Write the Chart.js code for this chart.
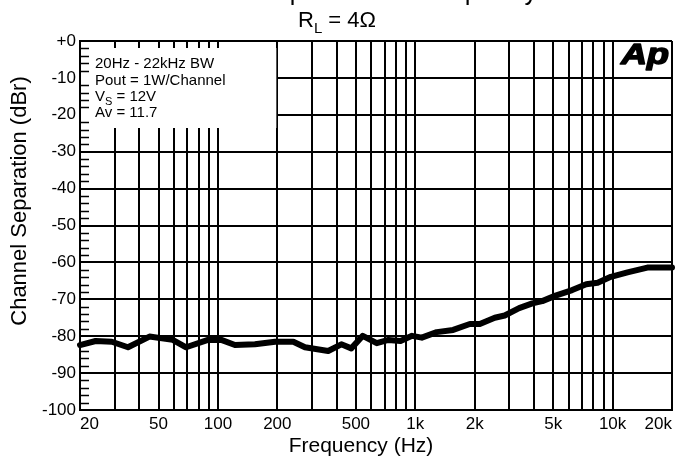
<!DOCTYPE html>
<html>
<head>
<meta charset="utf-8">
<script src="https://cdn.jsdelivr.net/npm/chart.js@4.4.0/dist/chart.umd.min.js"></script>
<style>
html, body { margin: 0; padding: 0; background: #fff; }
</style>
</head>
<body>
<canvas id="channel-separation" width="686" height="461"></canvas>
<script>
// Channel Separation vs Frequency, RL = 4 ohm
const freqHz = [20, 24, 29, 35, 45, 59, 69, 89, 104, 122, 154, 195, 241, 276, 362, 422, 474, 542,
    638, 731, 842, 963, 1079, 1285, 1556, 1890, 2124, 2528, 2840, 3360, 3920, 4400, 5140, 6240,
    7350, 8400, 9800, 11900, 15000, 20000];
const separationDb = [-82.4, -81.3, -81.5, -83.0, -80.1, -81.0, -83.0, -81.0, -81.0, -82.4, -82.2,
    -81.5, -81.5, -83.0, -84.0, -82.2, -83.3, -79.9, -81.9, -81.0, -81.3, -79.9, -80.4, -78.9,
    -78.3, -76.7, -76.7, -75.0, -74.4, -72.4, -71.1, -70.5, -69.0, -67.5, -65.9, -65.5, -63.9,
    -62.7, -61.4, -61.4];

// log grid lines and the few that carry a label
const gridHz = [20, 30, 40, 50, 60, 70, 80, 90, 100, 200, 300, 400, 500, 600, 700, 800, 900,
    1000, 2000, 3000, 4000, 5000, 6000, 7000, 8000, 9000, 10000, 20000];
const labelHz = [20, 50, 100, 200, 500, 1000, 2000, 5000, 10000, 20000];
const labelText = ["20", "50", "100", "200", "500", "1k", "2k", "5k", "10k", "20k"];

// small ticks on the left edge, every 2 dB
const minorDb = [-2, -4, -6, -8, -12, -14, -16, -18, -22, -24, -26, -28, -32, -34, -36, -38,
    -42, -44, -46, -48, -52, -54, -56, -58, -62, -64, -66, -68, -72, -74, -76, -78,
    -82, -84, -86, -88, -92, -94, -96, -98];

const noteLines = ["20Hz - 22kHz BW", "Pout = 1W/Channel", "Vs = 12V", "Av = 11.7"];

const FONT = '"Liberation Sans", Arial, sans-serif';
Chart.defaults.font.family = FONT;
Chart.defaults.color = "#000";

const points = freqHz.map((f, i) => ({ x: f, y: separationDb[i] }));

// text with a subscript, e.g. R + L
function subText(ctx, x, y, main, sub, rest, size) {
    ctx.font = size + "px " + FONT;
    ctx.fillText(main, x, y);
    x += ctx.measureText(main).width;
    ctx.font = Math.round(size * 0.7) + "px " + FONT;
    ctx.fillText(sub, x, y + size * 0.25);
    x += ctx.measureText(sub).width;
    ctx.font = size + "px " + FONT;
    ctx.fillText(rest, x, y);
}

const panelPlugin = {
    id: "panel",
    beforeDatasetsDraw(chart) {
        const ctx = chart.ctx;
        const area = chart.chartArea;
        const yScale = chart.scales.y;
        const xScale = chart.scales.x;
        ctx.save();
        // white note box over the grid
        ctx.fillStyle = "#fff";
        const boxRight = xScale.getPixelForValue(200) - 1;
        ctx.fillRect(area.left + 1, area.top + 7, boxRight - area.left - 1, 80);

        ctx.strokeStyle = "#000";
        ctx.lineWidth = 1.5;
        ctx.beginPath();
        minorDb.forEach(v => {
            const py = Math.round(yScale.getPixelForValue(v)) + 0.5;
            ctx.moveTo(area.left, py);
            ctx.lineTo(area.left + 9, py);
        });
        ctx.stroke();

        ctx.fillStyle = "#000";
        ctx.textAlign = "left";
        ctx.textBaseline = "alphabetic";
        ctx.font = "15px " + FONT;
        const tx = area.left + 15;
        ctx.fillText(noteLines[0], tx, area.top + 27);
        ctx.fillText(noteLines[1], tx, area.top + 44);
        subText(ctx, tx, area.top + 60, "V", "S", " = 12V", 15);
        ctx.font = "15px " + FONT;
        ctx.fillText(noteLines[3], tx, area.top + 76);
        ctx.restore();
    },
    afterDraw(chart) {
        const ctx = chart.ctx;
        const area = chart.chartArea;
        ctx.save();
        ctx.fillStyle = "#000";
        ctx.textBaseline = "alphabetic";

        // first title line sits mostly above the canvas
        ctx.textAlign = "center";
        ctx.font = "25px " + FONT;
        ctx.fillText("Channel Separation vs Frequency", 348, 0);

        ctx.textAlign = "left";
        subText(ctx, 298, 27, "R", "L", " = 4\u03A9", 22);

        // axis titles
        ctx.textAlign = "center";
        ctx.textBaseline = "middle";
        ctx.font = "21px " + FONT;
        ctx.fillText("Frequency (Hz)", 361, 446);
        ctx.translate(20, 201);
        ctx.rotate(-Math.PI / 2);
        ctx.font = "22px " + FONT;
        ctx.fillText("Channel Separation (dBr)", 0, 0);
        ctx.restore();

        // Ap logo
        ctx.save();
        ctx.fillStyle = "#000";
        ctx.strokeStyle = "#000";
        ctx.lineWidth = 1.5;
        ctx.lineJoin = "round";
        ctx.textAlign = "right";
        ctx.textBaseline = "alphabetic";
        ctx.font = "italic bold 30px " + FONT;
        ctx.translate(area.right - 3, area.top + 23);
        ctx.scale(1.2, 1);
        ctx.fillText("Ap", 0, 0);
        ctx.strokeText("Ap", 0, 0);
        ctx.restore();
    }
};

const sep_config = {
    type: "line",
    data: {
        datasets: [{
            label: "Channel Separation",
            data: points,
            borderColor: "#000",
            borderWidth: 6,
            borderCapStyle: "round",
            borderJoinStyle: "round",
            pointRadius: 0,
            tension: 0,
            clip: false,
        }]
    },
    options: {
        responsive: false,
        animation: false,
        layout: { padding: { top: 41, right: 14, left: 0, bottom: 0 } },
        plugins: {
            legend: { display: false },
            tooltip: { enabled: false },
        },
        scales: {
            x: {
                type: "logarithmic",
                min: 20,
                max: 20000,
                afterBuildTicks: scale => {
                    scale.ticks = gridHz.map(v => ({ value: v }));
                },
                afterFit: scale => { scale.height = 51; },
                grid: { color: "#000", lineWidth: 2, drawTicks: false },
                border: { color: "#000", width: 2 },
                ticks: {
                    autoSkip: false,
                    maxRotation: 0,
                    align: "inner",
                    padding: 4,
                    font: { size: 17 },
                    color: "#000",
                    callback: value => {
                        const i = labelHz.indexOf(value);
                        return i < 0 ? "" : labelText[i];
                    }
                }
            },
            y: {
                min: -100,
                max: 0,
                afterFit: scale => { scale.width = 80; },
                grid: { color: "#000", lineWidth: 2, drawTicks: false },
                border: { color: "#000", width: 2 },
                ticks: {
                    stepSize: 10,
                    padding: 4,
                    font: { size: 17 },
                    color: "#000",
                    callback: value => value === 0 ? "+0" : String(value)
                }
            }
        }
    },
    plugins: [panelPlugin]
};

var sep_chart = new Chart(
    document.getElementById("channel-separation"),
    sep_config
);
</script>
</body>
</html>
